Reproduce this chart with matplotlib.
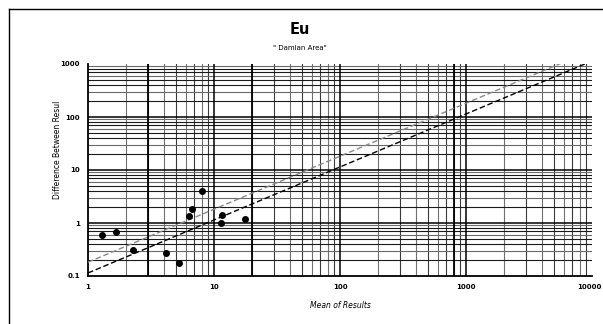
import numpy as np
import matplotlib
matplotlib.use("Agg")
import matplotlib.pyplot as plt
from matplotlib.lines import Line2D
import matplotlib.transforms as mtransforms

# Data
mean_results = [1.29, 1.66, 2.28, 4.15, 5.29, 6.28, 6.75, 7.96, 11.5, 11.4, 17.5]
differences = [0.60, 0.67, 0.315, 0.277, 0.179, 1.37, 1.84, 3.96, 1.42, 1.02, 1.17]

lower_slope = 0.114
upper_slope = 0.182
line_x = [1, 10000]

x_ticks = [1, 10, 100, 1000, 10000]
x_ticklabels = ["1", "10", "100", "1000", "10000"]
y_ticks = [0.1, 1, 10, 100, 1000]
y_ticklabels = ["0.1", "1", "10", "100", "1000"]

fig = plt.figure(figsize=(6.03, 3.24), dpi=100)
W, H = 603, 324
left, right, top, bottom = 88, 592, 64, 276
ax = fig.add_axes([left / W, 1 - bottom / H, (right - left) / W, (bottom - top) / H])

ax.set_xscale("log")
ax.set_yscale("log")
ax.set_xlim(1, 10000)
ax.set_ylim(0.1, 1000)

# gridlines
for d in [1, 10, 100, 1000]:
    for m in range(2, 10):
        v = d * m
        ax.axvline(v, color="#3a3a3a" if m % 2 else "#707070", lw=0.8, zorder=1)
for d in [0.1, 1, 10, 100]:
    for m in range(2, 10):
        v = d * m
        ax.axhline(v, color="#1a1a1a" if m % 3 else "#6a6a6a", lw=0.8, zorder=1)
for v in [10, 100, 1000]:
    ax.axvline(v, color="black", lw=1.1, zorder=1)
for v in [1, 10, 100]:
    ax.axhline(v, color="black", lw=1.1, zorder=1)
for v in [3, 20, 800]:
    ax.axvline(v, color="black", lw=1.3, zorder=1)

lx = np.array(line_x, dtype=float)
ax.plot(lx, upper_slope * lx, color="#8a8a8a", lw=1.0, ls=(0, (4, 2)), zorder=3)
ax.plot(lx, lower_slope * lx, color="black", lw=1.0, ls=(0, (4, 2)), zorder=3)

ax.plot(mean_results, differences, "o", color="black", ms=4, zorder=4)

ax.set_xticks(x_ticks)
ax.set_xticklabels(x_ticklabels)
ax.set_yticks(y_ticks)
ax.set_yticklabels(y_ticklabels)
ax.xaxis.set_minor_locator(matplotlib.ticker.NullLocator())
ax.yaxis.set_minor_locator(matplotlib.ticker.NullLocator())
ax.tick_params(axis="both", length=0, labelsize=5, pad=6)
for lab in ax.get_xticklabels() + ax.get_yticklabels():
    lab.set_fontweight("bold")
last = ax.get_xticklabels()[-1]
last.set_transform(last.get_transform() + mtransforms.ScaledTranslation(-3 / 100, 0, fig.dpi_scale_trans))

for s in ["top", "right"]:
    ax.spines[s].set_visible(False)
for s in ["left", "bottom"]:
    ax.spines[s].set_linewidth(1.3)

ax.set_xlabel("Mean of Results", fontsize=5.5, fontstyle="italic")
ax.xaxis.set_label_coords(0.5, -0.12)
fig.text(57 / W, 1 - 150 / H, "Difference Between Resul", rotation=90,
         fontsize=5.5, ha="center", va="center")

fig.text(0.497, 1 - 30 / H, "Eu", fontsize=10.5, fontweight="bold", ha="center", va="center")
fig.text(0.497, 1 - 48 / H, "\" Damian Area\"", fontsize=5, ha="center", va="center")

# outer frame (left & top edges)
fig.add_artist(Line2D([9 / W, 1], [1 - 9 / H, 1 - 9 / H], color="black", lw=1.0,
                      transform=fig.transFigure))
fig.add_artist(Line2D([9 / W, 9 / W], [0, 1 - 9 / H], color="black", lw=1.0,
                      transform=fig.transFigure))

fig.savefig("out.png", dpi=100)
